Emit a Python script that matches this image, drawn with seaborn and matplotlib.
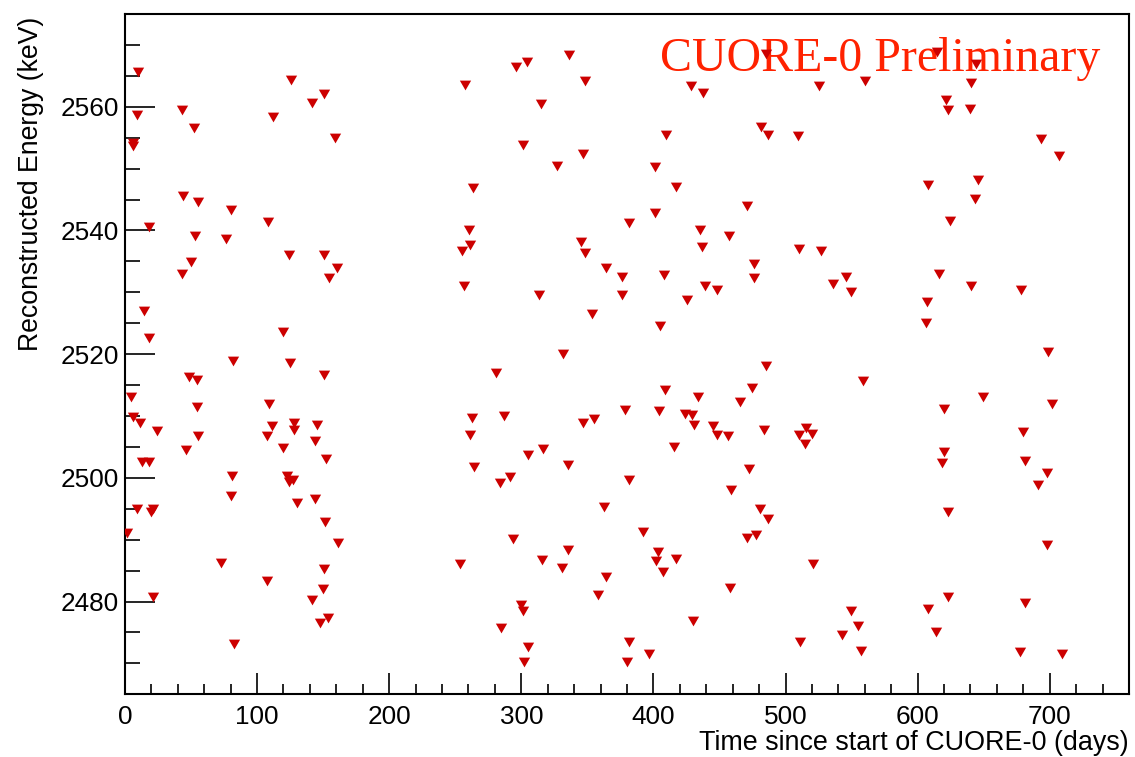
import matplotlib
matplotlib.use("Agg")
import matplotlib.pyplot as plt
from matplotlib.path import Path
from matplotlib.ticker import MultipleLocator
import seaborn as sns

# Candidate events: time since start of run (days) and reconstructed energy (keV)
days = [
    9.6, 8.9, 42.9, 52.4, 5.8, 6.3, 125.9, 150.6, 141.3, 112.0, 158.9, 44.1,
    55.0, 80.0, 108.2, 17.9, 53.0, 76.7, 123.9, 150.6, 160.2, 49.9, 43.1, 154.2,
    14.2, 18.2, 119.6, 81.7, 124.9, 150.8, 48.7, 54.7, 4.3, 109.0, 54.7, 6.3,
    11.4, 111.2, 127.7, 127.9, 145.1, 24.0, 55.5, 107.5, 143.8, 119.6, 45.9, 152.3,
    12.6, 17.9, 81.0, 122.6, 124.1, 126.9, 80.0, 143.6, 130.4, 8.9, 21.2, 19.7,
    151.4, 1.3, 161.2, 72.9, 150.4, 107.7, 149.6, 21.2, 141.5, 153.9, 147.8, 82.7,
    336.0, 304.0, 295.7, 257.3, 347.9, 314.6, 409.4, 301.2, 346.4, 326.9, 401.3, 263.4,
    417.2, 401.1, 381.9, 260.3, 261.3, 255.0, 345.3, 348.3, 364.5, 376.3, 408.1, 256.3,
    313.3, 376.3, 425.8, 353.4, 404.9, 331.7, 280.8, 408.7, 262.6, 286.6, 378.6, 404.3,
    424.3, 346.6, 354.7, 261.1, 415.7, 316.6, 305.2, 264.1, 335.3, 291.4, 283.8, 381.6,
    362.3, 391.8, 293.6, 335.5, 403.4, 401.6, 417.2, 253.3, 315.8, 330.7, 407.4, 364.5,
    357.9, 299.7, 301.4, 284.8, 381.6, 304.8, 396.8, 302.0, 379.7,
    484.9, 614.5, 644.0, 428.1, 437.6, 525.4, 560.0, 640.5, 621.3, 622.8, 640.0, 481.5,
    486.6, 509.1, 608.2, 645.7, 643.8, 470.9, 624.3, 434.9, 456.9, 436.9, 510.1, 526.5,
    475.8, 475.8, 616.0, 438.9, 448.5, 535.6, 545.6, 549.9, 640.2, 606.9, 606.7, 484.9,
    558.3, 474.7, 433.9, 465.9, 429.1, 620.0, 430.6, 445.0, 447.8, 456.1, 483.8, 510.3,
    515.4, 519.7, 515.1, 620.0, 618.1, 472.2, 458.4, 480.5, 486.6, 623.0, 471.2, 477.7,
    520.7, 457.8, 623.0, 430.1, 607.9, 549.2, 554.9, 542.8, 614.0, 511.0, 557.5,
    693.2, 707.0, 678.6, 699.0, 649.3, 701.5, 680.1, 681.3, 698.3, 690.9, 697.7, 681.1,
    677.8, 709.6,
]

energy_kev = [
    2565.7, 2558.7, 2559.4, 2556.5, 2554.2, 2553.7, 2564.3, 2562.1, 2560.6, 2558.4, 2555.0, 2545.6,
    2544.6, 2543.3, 2541.3, 2540.6, 2539.1, 2538.7, 2536.0, 2536.0, 2533.9, 2534.9, 2532.9, 2532.3,
    2527.0, 2522.6, 2523.6, 2518.9, 2518.5, 2516.6, 2516.3, 2515.9, 2513.0, 2512.0, 2511.5, 2509.8,
    2508.8, 2508.4, 2508.8, 2507.7, 2508.6, 2507.5, 2506.7, 2506.7, 2506.0, 2504.8, 2504.5, 2503.0,
    2502.5, 2502.6, 2500.3, 2500.3, 2499.3, 2499.6, 2497.0, 2496.6, 2496.0, 2495.0, 2495.0, 2494.4,
    2492.8, 2491.1, 2489.5, 2486.2, 2485.2, 2483.3, 2482.0, 2480.8, 2480.3, 2477.3, 2476.5, 2473.2,
    2568.4, 2567.3, 2566.5, 2563.5, 2564.2, 2560.5, 2555.4, 2553.8, 2552.4, 2550.4, 2550.2, 2546.9,
    2547.1, 2542.8, 2541.2, 2540.0, 2537.6, 2536.7, 2538.1, 2536.4, 2534.0, 2532.5, 2532.8, 2531.0,
    2529.6, 2529.6, 2528.8, 2526.5, 2524.6, 2520.1, 2516.9, 2514.2, 2509.6, 2510.0, 2510.9, 2510.8,
    2510.4, 2508.8, 2509.5, 2506.9, 2505.0, 2504.6, 2503.7, 2501.8, 2502.1, 2500.1, 2499.1, 2499.6,
    2495.3, 2491.3, 2490.1, 2488.3, 2488.0, 2486.6, 2486.9, 2486.1, 2486.7, 2485.4, 2484.7, 2483.9,
    2481.1, 2479.5, 2478.5, 2475.7, 2473.5, 2472.7, 2471.5, 2470.3, 2470.3,
    2568.6, 2568.9, 2566.9, 2563.4, 2562.2, 2563.4, 2564.2, 2563.9, 2561.1, 2559.4, 2559.7, 2556.8,
    2555.4, 2555.3, 2547.4, 2548.1, 2545.1, 2544.0, 2541.5, 2540.1, 2539.1, 2537.4, 2537.0, 2536.6,
    2534.5, 2532.3, 2533.0, 2531.0, 2530.4, 2531.4, 2532.4, 2530.0, 2531.0, 2528.4, 2525.1, 2518.1,
    2515.6, 2514.6, 2513.0, 2512.3, 2510.1, 2511.1, 2508.5, 2508.4, 2507.0, 2506.7, 2507.7, 2506.9,
    2508.1, 2507.1, 2505.5, 2504.1, 2502.4, 2501.5, 2498.1, 2494.9, 2493.3, 2494.5, 2490.2, 2490.7,
    2486.0, 2482.2, 2480.8, 2476.9, 2478.8, 2478.5, 2476.1, 2474.6, 2475.1, 2473.4, 2472.0,
    2554.8, 2552.1, 2530.3, 2520.4, 2513.0, 2511.9, 2507.4, 2502.7, 2500.8, 2498.9, 2489.2, 2479.8,
    2471.8, 2471.5,
]

x_label = "Time since start of CUORE-0 (days)"
y_label = "Reconstructed Energy (keV)"
banner = "CUORE-0 Preliminary"

sns.set_style("white")
plt.rcParams["font.family"] = ["Liberation Sans", "DejaVu Sans"]
plt.rcParams["text.color"] = "black"
plt.rcParams["axes.labelcolor"] = "black"
plt.rcParams["xtick.color"] = "black"
plt.rcParams["ytick.color"] = "black"

fig = plt.figure(figsize=(11.35, 7.57), dpi=100)
ax = fig.add_axes([0.1101, 0.0828, 0.8846, 0.8987])

# equilateral downward triangle marker
tri_down = Path([(-1.0, 0.866), (1.0, 0.866), (0.0, -0.866), (-1.0, 0.866)],
                [Path.MOVETO, Path.LINETO, Path.LINETO, Path.CLOSEPOLY])

sns.scatterplot(x=days, y=energy_kev, marker=tri_down, s=66, color="#cc0000",
                linewidth=0, ax=ax, zorder=3, legend=False)

ax.set_xlim(0, 760)
ax.set_ylim(2465, 2575)

ax.xaxis.set_major_locator(MultipleLocator(100))
ax.xaxis.set_minor_locator(MultipleLocator(20))
ax.yaxis.set_major_locator(MultipleLocator(20))
ax.yaxis.set_minor_locator(MultipleLocator(5))

ax.tick_params(axis="both", which="both", direction="in", top=False, right=False,
               bottom=True, left=True, color="black", labelcolor="black", width=1.2)
ax.tick_params(axis="y", which="major", length=21.6, pad=4.5, labelsize=18.8)
ax.tick_params(axis="y", which="minor", length=10.8)
ax.tick_params(axis="x", which="major", length=15, pad=8, labelsize=18.8)
ax.tick_params(axis="x", which="minor", length=7.2)

for sp in ax.spines.values():
    sp.set_visible(True)
    sp.set_color("black")
    sp.set_linewidth(1.5)

ax.set_xlabel(x_label, fontsize=19.4, loc="right", color="black")
ax.xaxis.set_label_coords(1.0, -0.052)
ax.set_ylabel(y_label, fontsize=19.2, loc="top", color="black")
ax.yaxis.set_label_coords(-0.081, 0.996)

ax.text(405, 2565.8, banner, fontsize=34.5, color="#ff2200",
        family=["Liberation Serif", "DejaVu Serif"], ha="left", va="baseline", zorder=1)

fig.savefig("out.png", dpi=100)
